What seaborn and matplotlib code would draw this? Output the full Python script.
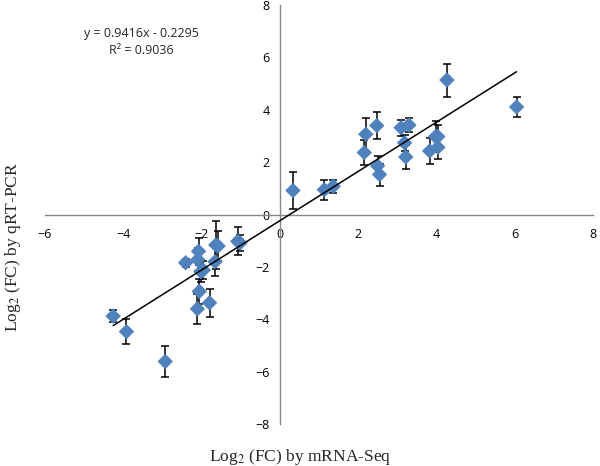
import numpy as np
import pandas as pd
import seaborn as sns
import matplotlib
matplotlib.use("Agg")
import matplotlib.pyplot as plt

# values
mrna_seq = [-4.26, -3.92, -2.93, -2.41, -2.08, -2.10, -2.02, -1.96, -2.06, -2.11,
            -1.80, -1.64, -1.58, -1.66, -1.08, -1.02, 0.33, 1.13, 1.36, 2.15,
            2.19, 2.47, 2.49, 2.54, 3.09, 3.29, 3.18, 3.21, 3.82, 3.97,
            4.03, 4.03, 4.26, 6.04]
qrt_pcr = [-3.88, -4.47, -5.61, -1.84, -1.40, -1.72, -2.18, -2.12, -2.93, -3.60,
           -3.37, -1.16, -1.20, -1.80, -1.02, -1.08, 0.92, 0.95, 1.08, 2.37,
           3.07, 3.40, 1.86, 1.53, 3.32, 3.42, 2.74, 2.20, 2.43, 2.98,
           2.98, 2.57, 5.14, 4.11]
qrt_err = [0.22, 0.49, 0.58, 0.15, 0.52, 0.45, 0.40, 0.35, 0.48, 0.57,
           0.54, 0.90, 0.58, 0.55, 0.54, 0.30, 0.70, 0.39, 0.24, 0.46,
           0.63, 0.50, 0.36, 0.42, 0.30, 0.27, 0.30, 0.46, 0.50, 0.60,
           0.45, 0.45, 0.63, 0.37]
slope, intercept, r2 = 0.9416, -0.2295, 0.9036
x_ticks = [-6, -4, -2, 0, 2, 4, 6, 8]
y_ticks = [-8, -6, -4, -2, 0, 2, 4, 6, 8]

df = pd.DataFrame({"mrna": mrna_seq, "qpcr": qrt_pcr, "err": qrt_err})

sns.set_style("white")
plt.rcParams["font.family"] = ["Open Sans", "DejaVu Sans"]
plt.rcParams["mathtext.fontset"] = "stix"

fig = plt.figure(figsize=(6, 4.66), dpi=100)
ax = fig.add_axes([0.075, 0.09, 0.914, 0.899])

# error bars first, diamonds on top
ax.errorbar(df["mrna"], df["qpcr"], yerr=df["err"], fmt="none", ecolor="black",
            elinewidth=1.1, capsize=3, capthick=1.1, zorder=2)
sns.scatterplot(data=df, x="mrna", y="qpcr", marker="D", s=62, color="#4F81BD",
                edgecolor="none", ax=ax, zorder=3)

# linear trendline over data range
xl = np.array([df["mrna"].min(), df["mrna"].max()])
ax.plot(xl, slope * xl + intercept, color="black", lw=1.1, zorder=4)

ax.set_xlim(-6, 8)
ax.set_ylim(-8, 8)
ax.set_xticks(x_ticks)
ax.set_yticks(y_ticks)
ax.set_xlabel("")
ax.set_ylabel("")

for side in ["top", "right"]:
    ax.spines[side].set_visible(False)
for side in ["left", "bottom"]:
    ax.spines[side].set_position("zero")
    ax.spines[side].set_color("#868686")
    ax.spines[side].set_linewidth(1)
ax.tick_params(axis="both", direction="out", length=4, width=1, color="#868686",
               labelsize=9, labelcolor="black")
ax.tick_params(axis="x", pad=6)

ax.text(-3.55, 6.6, f"y = {slope}x - {abs(intercept)}\nR\u00b2 = {r2}", ha="center",
        va="center", fontsize=9, linespacing=1.35)

fig.text(0.5, 0.02, "Log$_{2}$ (FC) by mRNA-Seq", ha="center", va="center",
         fontsize=12.5, family="Liberation Serif")
fig.text(0.022, 0.47, "Log$_{2}$ (FC) by qRT-PCR", ha="center", va="center",
         rotation=90, fontsize=12.5, family="Liberation Serif")

fig.savefig("out.png", dpi=100)
